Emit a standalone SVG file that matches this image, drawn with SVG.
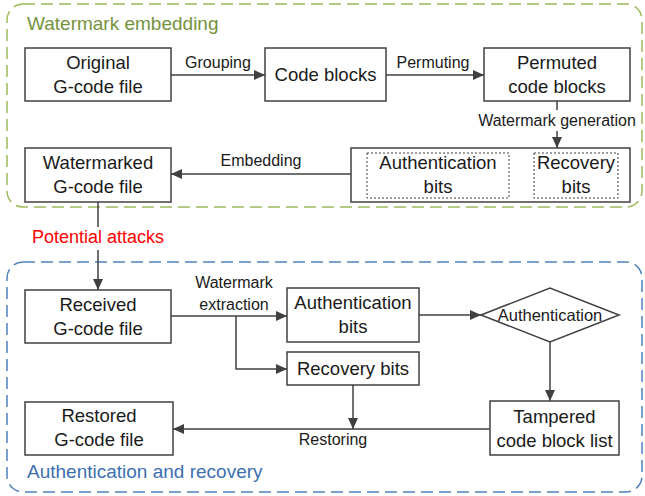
<svg xmlns="http://www.w3.org/2000/svg" width="645" height="496" viewBox="0 0 645 496">
<style>
text{font-family:"Liberation Sans",Arial,sans-serif;fill:#1a1a1a;text-anchor:middle}
.box{fill:#fff;stroke:#404040;stroke-width:1.5}
.dot{fill:none;stroke:#404040;stroke-width:1;stroke-dasharray:2,2}
.bt{font-size:18.5px}
.lb{font-size:16px}
.ln{fill:none;stroke:#404040;stroke-width:1.5}
.arr{marker-end:url(#ah)}
</style>
<defs>
<marker id="ah" markerUnits="userSpaceOnUse" markerWidth="12" markerHeight="10" refX="11" refY="5" orient="auto">
<path d="M0,0 L11,5 L0,10 Z" fill="#404040"/>
</marker>
</defs>
<rect width="645" height="496" fill="#fff"/>
<g id="group-embedding">
<rect x="7" y="4" width="635" height="203" rx="16" fill="none" stroke="#9BBB59" stroke-width="1.5" stroke-dasharray="12,6"/>
<text x="27" y="30" style="font-size:19px;text-anchor:start;fill:#76923C">Watermark embedding</text>
</g>
<g id="group-recovery">
<rect x="7" y="262" width="635" height="230" rx="16" fill="none" stroke="#4F81BD" stroke-width="1.5" stroke-dasharray="12,6"/>
<text x="27" y="478" style="font-size:19px;text-anchor:start;fill:#3D6FAF">Authentication and recovery</text>
</g>
<g id="connectors">
<line class="ln arr" x1="171" y1="75" x2="265" y2="75"/>
<text class="lb" x="218" y="68">Grouping</text>
<line class="ln arr" x1="386" y1="75" x2="484" y2="75"/>
<text class="lb" x="433" y="68">Permuting</text>
<line class="ln" x1="557" y1="101" x2="557" y2="110"/>
<line class="ln arr" x1="557" y1="131" x2="557" y2="148"/>
<text class="lb" x="557" y="126">Watermark generation</text>
<line class="ln arr" x1="351" y1="174" x2="171" y2="174"/>
<text class="lb" x="261" y="166">Embedding</text>
<line class="ln" x1="98" y1="202" x2="98" y2="227"/>
<line class="ln arr" x1="98" y1="250" x2="98" y2="290"/>
<text x="98" y="243" style="font-size:18px;fill:#FF0000">Potential attacks</text>
<line class="ln arr" x1="171" y1="316" x2="287" y2="316"/>
<polyline class="ln arr" points="236,316 236,369 287,369"/>
<text class="lb" x="234" y="288">Watermark</text>
<text class="lb" x="234" y="310">extraction</text>
<line class="ln arr" x1="419" y1="315" x2="481" y2="315"/>
<line class="ln arr" x1="550" y1="342" x2="550" y2="401"/>
<line class="ln arr" x1="490" y1="429" x2="173" y2="429"/>
<line class="ln arr" x1="353" y1="385" x2="353" y2="429"/>
<text class="lb" x="333" y="445">Restoring</text>
</g>
<g id="original">
<rect class="box" x="25" y="48" width="146" height="53"/>
<text class="bt" x="98" y="69">Original</text>
<text class="bt" x="98" y="93">G-code file</text>
</g>
<g id="code-blocks">
<rect class="box" x="265" y="48" width="121" height="53"/>
<text class="bt" x="325.5" y="81">Code blocks</text>
</g>
<g id="permuted">
<rect class="box" x="484" y="48" width="146" height="53"/>
<text class="bt" x="557" y="69">Permuted</text>
<text class="bt" x="557" y="93">code blocks</text>
</g>
<g id="bits">
<rect class="box" x="351" y="148" width="279" height="54"/>
<rect class="dot" x="367" y="153" width="142" height="45"/>
<rect class="dot" x="534" y="153" width="84" height="45"/>
<text class="bt" x="438" y="169">Authentication</text>
<text class="bt" x="438" y="193">bits</text>
<text class="bt" x="576" y="169">Recovery</text>
<text class="bt" x="576" y="193">bits</text>
</g>
<g id="watermarked">
<rect class="box" x="25" y="148" width="146" height="54"/>
<text class="bt" x="98" y="169">Watermarked</text>
<text class="bt" x="98" y="193">G-code file</text>
</g>
<g id="received">
<rect class="box" x="25" y="290" width="146" height="53"/>
<text class="bt" x="98" y="311">Received</text>
<text class="bt" x="98" y="335">G-code file</text>
</g>
<g id="auth-bits">
<rect class="box" x="287" y="288" width="132" height="54"/>
<text class="bt" x="353" y="309">Authentication</text>
<text class="bt" x="353" y="333">bits</text>
</g>
<g id="recovery-bits">
<rect class="box" x="287" y="352" width="132" height="33"/>
<text class="bt" x="353" y="375">Recovery bits</text>
</g>
<g id="authentication">
<polygon class="box" points="481,315 550,288 619,315 550,342"/>
<text x="550" y="321" style="font-size:16.5px">Authentication</text>
</g>
<g id="tampered">
<rect class="box" x="490" y="401" width="129" height="54"/>
<text class="bt" x="554.5" y="423">Tampered</text>
<text class="bt" x="554.5" y="447">code block list</text>
</g>
<g id="restored">
<rect class="box" x="25" y="402" width="148" height="53"/>
<text class="bt" x="99" y="422">Restored</text>
<text class="bt" x="99" y="446">G-code file</text>
</g>
</svg>
